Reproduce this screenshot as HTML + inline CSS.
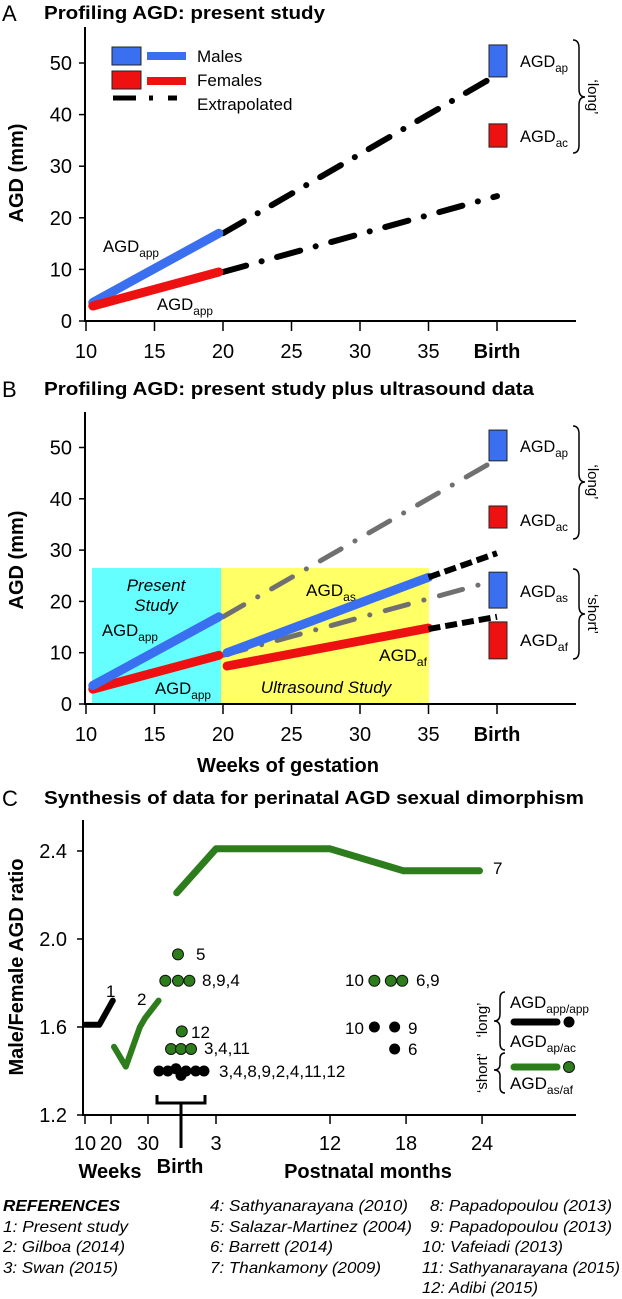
<!DOCTYPE html>
<html><head><meta charset="utf-8"><style>
html,body{margin:0;padding:0;background:#fff;}
svg{display:block;font-family:"Liberation Sans",Arial,sans-serif;}
</style></head><body>
<svg id="fig" width="622" height="1299" viewBox="0 0 622 1299" xmlns="http://www.w3.org/2000/svg">
<rect x="0" y="0" width="622" height="1299" fill="#fff"/>
<g>
<text x="2" y="21" font-size="22">A</text>
<text x="44" y="19" font-size="18" font-weight="bold" textLength="281" lengthAdjust="spacingAndGlyphs">Profiling AGD: present study</text>
<text transform="translate(23,173) rotate(-90)" text-anchor="middle" font-size="20" font-weight="bold">AGD (mm)</text>
<g id="axA"></g>
<rect x="112" y="47" width="29" height="18" fill="#3a6ff0" stroke="#222" stroke-width="1"/>
<line x1="147" y1="56" x2="186" y2="56" stroke="#3a6ff0" stroke-width="8"/>
<rect x="112" y="71" width="29" height="18" fill="#ee1111" stroke="#222" stroke-width="1"/>
<line x1="147" y1="81" x2="186" y2="81" stroke="#ee1111" stroke-width="8"/>
<path d="M113 98 H136 M149 98 H153 M168 98 H177" stroke="#000" stroke-width="5"/>
<text x="197" y="62" font-size="17">Males</text>
<text x="197" y="86" font-size="17">Females</text>
<text x="197" y="110" font-size="17">Extrapolated</text>
<text x="103" y="252" font-size="17" textLength="56" lengthAdjust="spacingAndGlyphs">AGD<tspan font-size="12" dy="5">app</tspan></text>
<text x="157" y="310" font-size="17" textLength="56" lengthAdjust="spacingAndGlyphs">AGD<tspan font-size="12" dy="5">app</tspan></text>
<text x="520" y="67" font-size="17" textLength="48" lengthAdjust="spacingAndGlyphs">AGD<tspan font-size="12" dy="5">ap</tspan></text>
<text x="520" y="142" font-size="17" textLength="48" lengthAdjust="spacingAndGlyphs">AGD<tspan font-size="12" dy="5">ac</tspan></text>
<path d="M573 40 q6 0 6 8 V89 q0 8 6 8 q-6 0 -6 8 V145 q0 8 -6 8" fill="none" stroke="#000" stroke-width="1.5"/>
<text transform="translate(588,97) rotate(90)" text-anchor="middle" font-size="15">‘long’</text>
</g>
<g>
<rect x="92" y="568" width="129" height="136" fill="#66ffff"/>
<rect x="221" y="568" width="208" height="136" fill="#ffff66"/>
<text x="2" y="397" font-size="22">B</text>
<text x="44" y="395" font-size="18" font-weight="bold" textLength="490" lengthAdjust="spacingAndGlyphs">Profiling AGD: present study plus ultrasound data</text>
<text transform="translate(23,560) rotate(-90)" text-anchor="middle" font-size="20" font-weight="bold">AGD (mm)</text>
<text x="288" y="772" text-anchor="middle" font-size="20" font-weight="bold">Weeks of gestation</text>
<g id="axB"></g>
<text x="156" y="591" text-anchor="middle" font-size="17" font-style="italic">Present</text>
<text x="156" y="611" text-anchor="middle" font-size="17" font-style="italic">Study</text>
<text x="326" y="693" text-anchor="middle" font-size="17" font-style="italic">Ultrasound Study</text>
<text x="102" y="636" font-size="17" textLength="56" lengthAdjust="spacingAndGlyphs">AGD<tspan font-size="12" dy="5">app</tspan></text>
<text x="155" y="694" font-size="17" textLength="56" lengthAdjust="spacingAndGlyphs">AGD<tspan font-size="12" dy="5">app</tspan></text>
<text x="306" y="596" font-size="17" textLength="50" lengthAdjust="spacingAndGlyphs">AGD<tspan font-size="12" dy="5">as</tspan></text>
<text x="379" y="661" font-size="17" textLength="48" lengthAdjust="spacingAndGlyphs">AGD<tspan font-size="12" dy="5">af</tspan></text>
<text x="520" y="452" font-size="17" textLength="48" lengthAdjust="spacingAndGlyphs">AGD<tspan font-size="12" dy="5">ap</tspan></text>
<text x="520" y="526" font-size="17" textLength="48" lengthAdjust="spacingAndGlyphs">AGD<tspan font-size="12" dy="5">ac</tspan></text>
<text x="520" y="597" font-size="17" textLength="48" lengthAdjust="spacingAndGlyphs">AGD<tspan font-size="12" dy="5">as</tspan></text>
<text x="520" y="646" font-size="17" textLength="48" lengthAdjust="spacingAndGlyphs">AGD<tspan font-size="12" dy="5">af</tspan></text>
<path d="M573 426 q6 0 6 8 V474 q0 8 6 8 q-6 0 -6 8 V531 q0 8 -6 8" fill="none" stroke="#000" stroke-width="1.5"/>
<text transform="translate(588,482) rotate(90)" text-anchor="middle" font-size="15">‘long’</text>
<path d="M573 569 q6 0 6 8 V606 q0 8 6 8 q-6 0 -6 8 V651 q0 8 -6 8" fill="none" stroke="#000" stroke-width="1.5"/>
<text transform="translate(588,614) rotate(90)" text-anchor="middle" font-size="15">‘short’</text>
</g>
<g>
<text x="2" y="806" font-size="22">C</text>
<text x="44" y="804" font-size="18" font-weight="bold" textLength="540" lengthAdjust="spacingAndGlyphs">Synthesis of data for perinatal AGD sexual dimorphism</text>
<text transform="translate(23,967) rotate(-90)" text-anchor="middle" font-size="20" font-weight="bold">Male/Female AGD ratio</text>
<g id="axC"></g>
<path d="M157 1095 V1103 H205 V1095 M181 1103 V1148" fill="none" stroke="#000" stroke-width="3"/>
<text x="110" y="1178" text-anchor="middle" font-size="20" font-weight="bold">Weeks</text>
<text x="180" y="1173" text-anchor="middle" font-size="20" font-weight="bold">Birth</text>
<text x="368" y="1178" text-anchor="middle" font-size="20" font-weight="bold">Postnatal months</text>
<text transform="translate(487,1020) rotate(-90)" text-anchor="middle" font-size="15">‘long’</text>
<text transform="translate(487,1073) rotate(-90)" text-anchor="middle" font-size="15">‘short’</text>
<path d="M505 992 q-5 0 -5 7 V1014 q0 7 -6 7 q6 0 6 7 V1043 q0 7 5 7" fill="none" stroke="#000" stroke-width="1.5"/>
<path d="M505 1053 q-5 0 -5 6 V1064 q0 6 -6 6 q6 0 6 6 V1087 q0 6 5 6" fill="none" stroke="#000" stroke-width="1.5"/>
<text x="510" y="1008" font-size="17" textLength="79" lengthAdjust="spacingAndGlyphs">AGD<tspan font-size="12" dy="5">app/app</tspan></text>
<line x1="514" y1="1022" x2="557" y2="1022" stroke="#000" stroke-width="7" stroke-linecap="round"/>
<circle cx="569" cy="1022" r="5.5" fill="#000"/>
<text x="510" y="1047" font-size="17" textLength="66" lengthAdjust="spacingAndGlyphs">AGD<tspan font-size="12" dy="5">ap/ac</tspan></text>
<line x1="514" y1="1067" x2="557" y2="1067" stroke="#2d7d1c" stroke-width="7" stroke-linecap="round"/>
<circle cx="569" cy="1067" r="5.5" fill="#2d7d1c" stroke="#111" stroke-width="1"/>
<text x="510" y="1089" font-size="17" textLength="63" lengthAdjust="spacingAndGlyphs">AGD<tspan font-size="12" dy="5">as/af</tspan></text>
</g>
<g font-size="16" font-style="italic">
<text x="3" y="1211" font-weight="bold" textLength="117" lengthAdjust="spacingAndGlyphs">REFERENCES</text>
<text x="3" y="1232" textLength="125" lengthAdjust="spacingAndGlyphs">1: Present study</text>
<text x="3" y="1252" textLength="122" lengthAdjust="spacingAndGlyphs">2: Gilboa (2014)</text>
<text x="3" y="1273" textLength="115" lengthAdjust="spacingAndGlyphs">3: Swan (2015)</text>
<text x="210" y="1211" textLength="198" lengthAdjust="spacingAndGlyphs">4: Sathyanarayana (2010)</text>
<text x="210" y="1232" textLength="202" lengthAdjust="spacingAndGlyphs">5: Salazar-Martinez (2004)</text>
<text x="210" y="1252" textLength="123" lengthAdjust="spacingAndGlyphs">6: Barrett (2014)</text>
<text x="210" y="1273" textLength="171" lengthAdjust="spacingAndGlyphs">7: Thankamony (2009)</text>
<text x="430" y="1211" textLength="182" lengthAdjust="spacingAndGlyphs">8: Papadopoulou (2013)</text>
<text x="430" y="1232" textLength="182" lengthAdjust="spacingAndGlyphs">9: Papadopoulou (2013)</text>
<text x="422" y="1252" textLength="141" lengthAdjust="spacingAndGlyphs">10: Vafeiadi (2013)</text>
<text x="422" y="1273" textLength="198" lengthAdjust="spacingAndGlyphs">11: Sathyanarayana (2015)</text>
<text x="422" y="1293" textLength="116" lengthAdjust="spacingAndGlyphs">12: Adibi (2015)</text>
</g>
</svg>
<script>
const weekTicks=[10,15,20,25,30,35,40];
const weekTickLabels=["10","15","20","25","30","35","Birth"];
const agdTicks=[0,10,20,30,40,50];
const presentWeeks=[10.5,19.7];
const presentMale=[3.6,17];
const presentFemale=[2.9,9.5];
const extrapWeeks=[20,40];
const extrapMale=[17,47.7];
const extrapFemale=[9.5,24.2];
const usWeeks=[20.3,35];
const usMale=[10,24.7];
const usFemale=[7.4,14.8];
const usExtWeeks=[35,40];
const usExtMale=[24.7,29.4];
const usExtFemale=[14.6,17];
const boxNamesA=["agdap","agdac"];
const boxLowA=[47.3,33.7];
const boxHighA=[53.5,38.2];
const boxColorA=["m","f"];
const boxNamesB=["agdap","agdac","agdas","agdaf"];
const boxLowB=[47.4,34.3,18.7,8.8];
const boxHighB=[53.4,38.6,25.7,16];
const boxColorB=["m","f","m","f"];
const ratioTicks=[1.2,1.6,2.0,2.4];
const ratioTickLabels=["1.2","1.6","2.0","2.4"];
const cWeekTicks=[10,20,30];
const cMonthTicks=[3,12,18,24];
const line1Weeks=[10,15.5,20.5];
const line1Ratio=[1.61,1.61,1.72];
const line2Weeks=[20.8,24,27.8,29.2,33.2];
const line2Ratio=[1.51,1.42,1.60,1.64,1.72];
const line7Months=[-0.1,3,12,17.8,23.8];
const line7Ratio=[2.21,2.41,2.41,2.31,2.31];
const greenMonths=[0,-1.0,0,0.9,0.3,-0.55,0.24,1.03,15.5,16.8,17.7];
const greenRatio=[1.93,1.81,1.81,1.81,1.58,1.50,1.50,1.50,1.81,1.81,1.81];
const blackMonths=[-1.5,-0.8,-0.16,0.24,0.63,1.4,2.05,15.5,17.1,17.1];
const blackRatio=[1.40,1.40,1.41,1.38,1.40,1.40,1.40,1.60,1.60,1.50];
const labelTexts=["1","2","7","5","8,9,4","12","3,4,11","3,4,8,9,2,4,11,12","10","6,9","10","9","6"];
const labelX=[106,137,493,196,202,191,204,219,345,416,345,408,408];
const labelY=[991,999,868,954,980,1032,1048,1071,980,980,1028,1028,1049];

const xW=w=>86+(w-10)*13.7;
const yA=v=>321-5.16*v;
const yB=v=>704-5.13*v;
const yC=r=>1115-(r-1.2)*220;
const cwK=[10,20,30,40], cwX=[85,111,148,181];
function xCW(w){for(let i=0;i<cwK.length-1;i++){if(w<=cwK[i+1]||i===cwK.length-2){const t=(w-cwK[i])/(cwK[i+1]-cwK[i]);return cwX[i]+t*(cwX[i+1]-cwX[i]);}}}
const xM=m=>216+(m-3)*12.67;

const NS='http://www.w3.org/2000/svg';
const svg=document.getElementById('fig');
function mk(tag,parent){const e=document.createElementNS(NS,tag);(parent||svg).appendChild(e);return e;}
const BLUE='#3a6ff0',RED='#ee1111',GREEN='#2d7d1c';

function polyline(xs,ys,fx,fy,color,w,dash,name){
  const p=mk('polyline');
  p.setAttribute('points',xs.map((x,i)=>fx(x).toFixed(1)+','+fy(ys[i]).toFixed(1)).join(' '));
  p.setAttribute('fill','none');p.setAttribute('stroke',color);p.setAttribute('stroke-width',w);
  p.setAttribute('stroke-linecap',dash==='dd'?'round':(dash?'butt':'round'));p.setAttribute('stroke-linejoin','round');
  if(dash==='dd')p.setAttribute('stroke-dasharray','24 16 0.1 16');
  else if(dash)p.setAttribute('stroke-dasharray',dash);
  
  
  return p;
}
function axes(g,yf,top){
  const a=mk('path',g);
  a.setAttribute('d',`M85 ${top} V${yf(0)} H576`);
  a.setAttribute('fill','none');a.setAttribute('stroke','#000');a.setAttribute('stroke-width','2');
  
  
  agdTicks.forEach(v=>{
    const t=mk('line',g);t.setAttribute('x1',79);t.setAttribute('x2',85);t.setAttribute('y1',yf(v));t.setAttribute('y2',yf(v));t.setAttribute('stroke','#000');t.setAttribute('stroke-width','1.5');
    
    
    const l=mk('text',g);l.setAttribute('x',72);l.setAttribute('y',yf(v)+7);l.setAttribute('text-anchor','end');l.setAttribute('font-size','20');l.textContent=String(v);
    
    
  });
  weekTicks.forEach((w,i)=>{
    const t=mk('line',g);t.setAttribute('x1',xW(w));t.setAttribute('x2',xW(w));t.setAttribute('y1',yf(0));t.setAttribute('y2',yf(0)+10);t.setAttribute('stroke','#000');t.setAttribute('stroke-width','1.5');
    
    
    const l=mk('text',g);l.setAttribute('x',xW(w));l.setAttribute('y',yf(0)+37);l.setAttribute('text-anchor','middle');l.setAttribute('font-size','20');
    if(i===weekTicks.length-1)l.setAttribute('font-weight','bold');
    l.textContent=weekTickLabels[i];
    
    
  });
}
function boxes(names,lo,hi,col,yf,prefix){
  names.forEach((n,i)=>{
    const r=mk('rect');
    r.setAttribute('x',489);r.setAttribute('width',18);
    r.setAttribute('y',yf(hi[i]));r.setAttribute('height',yf(lo[i])-yf(hi[i]));
    r.setAttribute('fill',col[i]==='m'?BLUE:RED);r.setAttribute('stroke','#222');r.setAttribute('stroke-width','1');
    
    
  });
}
axes(document.getElementById('axA'),yA,27);
polyline(extrapWeeks,extrapMale,xW,yA,'#000',6,'dd','a-male-extrapolated-line');
polyline(extrapWeeks,extrapFemale,xW,yA,'#000',6,'dd','a-female-extrapolated-line');
polyline(presentWeeks,presentMale,xW,yA,BLUE,9,null,'a-male-line');
polyline(presentWeeks,presentFemale,xW,yA,RED,9,null,'a-female-line');
boxes(boxNamesA,boxLowA,boxHighA,boxColorA,yA,'a');
axes(document.getElementById('axB'),yB,412);
polyline(extrapWeeks,extrapMale,xW,yB,'#707070',5,'dd','b-male-long-extrapolated-line');
polyline(extrapWeeks,extrapFemale,xW,yB,'#707070',5,'dd','b-female-long-extrapolated-line');
polyline(presentWeeks,presentFemale,xW,yB,RED,9,null,'b-present-female-line');
polyline(presentWeeks,presentMale,xW,yB,BLUE,9,null,'b-present-male-line');
polyline(usWeeks,usFemale,xW,yB,RED,9,null,'b-ultrasound-female-line');
polyline(usWeeks,usMale,xW,yB,BLUE,9,null,'b-ultrasound-male-line');
polyline(usExtWeeks,usExtMale,xW,yB,'#000',6,'12 5','b-male-short-extrapolated-line');
polyline(usExtWeeks,usExtFemale,xW,yB,'#000',6,'12 5','b-female-short-extrapolated-line');
boxes(boxNamesB,boxLowB,boxHighB,boxColorB,yB,'b');
(function(){
  const g=document.getElementById('axC');
  const a=mk('path',g);a.setAttribute('d','M83 820 V1115 H576');a.setAttribute('fill','none');a.setAttribute('stroke','#000');a.setAttribute('stroke-width','2');
  
  
  ratioTicks.forEach((r,i)=>{
    const t=mk('line',g);t.setAttribute('x1',77);t.setAttribute('x2',83);t.setAttribute('y1',yC(r));t.setAttribute('y2',yC(r));t.setAttribute('stroke','#000');t.setAttribute('stroke-width','1.5');
    
    
    const l=mk('text',g);l.setAttribute('x',67);l.setAttribute('y',yC(r)+7);l.setAttribute('text-anchor','end');l.setAttribute('font-size','20');l.textContent=ratioTickLabels[i];
    
    
  });
  const tickXs=cWeekTicks.map(xCW).concat(cMonthTicks.map(xM));
  const tickLs=cWeekTicks.concat(cMonthTicks).map(String);
  tickXs.forEach((x,i)=>{
    const t=mk('line',g);t.setAttribute('x1',x);t.setAttribute('x2',x);t.setAttribute('y1',1115);t.setAttribute('y2',1124);t.setAttribute('stroke','#000');t.setAttribute('stroke-width','1.5');
    
    
    const l=mk('text',g);l.setAttribute('x',x);l.setAttribute('y',1150);l.setAttribute('text-anchor','middle');l.setAttribute('font-size','20');l.textContent=tickLs[i];
    
    
  });
})();
polyline(line1Weeks,line1Ratio,xCW,yC,'#000',6,null,'line-ref-1');
polyline(line2Weeks,line2Ratio,xCW,yC,GREEN,6,null,'line-ref-2');
polyline(line7Months,line7Ratio,xM,yC,GREEN,7,null,'line-ref-7');
greenMonths.forEach((m,i)=>{
  const c=mk('circle');c.setAttribute('cx',xM(m));c.setAttribute('cy',yC(greenRatio[i]));c.setAttribute('r',5.5);
  c.setAttribute('fill',GREEN);c.setAttribute('stroke','#111');c.setAttribute('stroke-width','1');
  
  
});
blackMonths.forEach((m,i)=>{
  const c=mk('circle');c.setAttribute('cx',xM(m));c.setAttribute('cy',yC(blackRatio[i]));c.setAttribute('r',5.5);
  c.setAttribute('fill','#000');
  
  
});
labelTexts.forEach((s,i)=>{
  const t=mk('text');t.setAttribute('x',labelX[i]);t.setAttribute('y',labelY[i]+6);t.setAttribute('font-size','17');t.textContent=s;
  
  
});
</script>
</body></html>
